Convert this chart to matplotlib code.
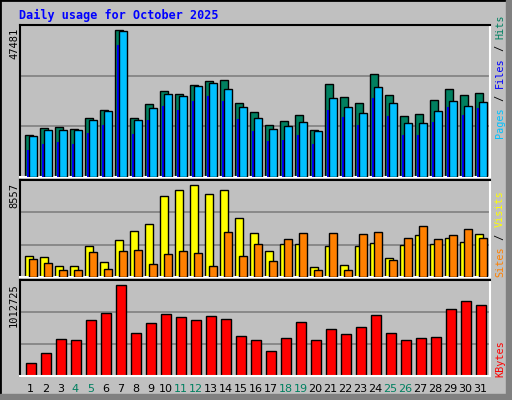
import matplotlib
matplotlib.use("Agg")
import matplotlib.pyplot as plt
from matplotlib.patches import Rectangle
import numpy as np

days = list(range(1, 32))
weekend = [4, 5, 11, 12, 18, 19, 25, 26]

hits = [13566, 15827, 16150, 15504, 19057, 21641, 47481, 19057, 23579, 27778, 26809,
        29716, 31008, 31331, 23902, 20995, 16796, 18088, 20026, 15181, 30039, 25840,
        23902, 33269, 26486, 19703, 20349, 24871, 28424, 26486, 27132]
files = [13243, 15181, 15181, 15181, 18411, 21318, 47158, 18411, 22287, 26809, 26163,
         29393, 30362, 28424, 22610, 19057, 15504, 16473, 17765, 14858, 25517, 22610,
         20672, 29070, 23902, 17442, 17442, 21318, 24548, 22933, 24225]
pages = [8721, 10659, 11305, 10659, 14212, 16796, 42636, 13889, 18411, 22933, 21641,
         24548, 26163, 24548, 18734, 14858, 11628, 11951, 13566, 10659, 21641, 19380,
         16796, 25517, 19703, 13566, 13566, 17765, 22610, 20026, 22287]
visits = [1978, 1885, 1051, 1051, 2905, 1421, 3461, 4295, 4944, 7540, 8096, 8557,
          7725, 8096, 5500, 4110, 2441, 3090, 3090, 958, 2905, 1143, 2905, 3183, 1792,
          2997, 3924, 3090, 3646, 3275, 4017]
sites = [1700, 1329, 680, 680, 2348, 773, 2441, 2534, 1236, 2163, 2441, 2256, 1051,
         4202, 1978, 3090, 1514, 3554, 4110, 680, 4110, 680, 4017, 4202, 1607, 3646,
         4759, 3554, 3924, 4481, 3646]
kbytes = [147840, 258720, 413952, 402864, 624624, 702240, 1012725, 480480, 591360,
          691152, 657888, 624624, 668976, 635712, 447216, 402864, 280896, 425040,
          602448, 402864, 524832, 469392, 547008, 680064, 480480, 402864, 425040,
          436128, 746592, 835296, 790944]

W, H = 512, 400
BG = "#c0c0c0"
fig = plt.figure(figsize=(W / 100, H / 100), dpi=100, facecolor=BG)
mono = "DejaVu Sans Mono"


def box(x0, y0, x1, y1):
    return [x0 / W, 1 - y1 / H, (x1 - x0) / W, (y1 - y0) / H]


def fpos(x, y):
    return x / W, 1 - y / H


# outer frame
fig.patches.append(Rectangle((0, 0), 1, 1, transform=fig.transFigure, fill=False,
                             edgecolor="black", lw=2))
fig.patches.append(Rectangle((506 / W, 0), 6 / W, 1, transform=fig.transFigure,
                             color="#808080"))
fig.patches.append(Rectangle((0, 0), 1, 6 / H, transform=fig.transFigure,
                             color="#808080"))

x = np.array(days, dtype=float)


def setup(ax, top):
    ax.set_facecolor(BG)
    ax.set_xlim(0.5, 31.83)
    ax.set_ylim(0, top)
    ax.set_yticks([top / 3, 2 * top / 3])
    ax.yaxis.grid(True, color="#808080", lw=1.2)
    ax.set_axisbelow(True)
    ax.tick_params(length=0, labelleft=False, labelbottom=False)
    ax.set_xticks([])
    for s in ["top", "left"]:
        ax.spines[s].set_color("black")
    for s in ["right", "bottom"]:
        ax.spines[s].set_color("white")
    for s in ax.spines.values():
        s.set_linewidth(1.5)


ax1 = fig.add_axes(box(20, 25, 490, 177))
setup(ax1, 49096)
ax1.bar(x - 0.167, hits, width=0.53, align="edge", color="#008060", edgecolor="black", lw=1, zorder=2)
ax1.bar(x - 0.03, pages, width=0.5, align="edge", color="#0000ff", lw=0, zorder=3)
ax1.bar(x + 0.1, files, width=0.5, align="edge", color="#00c0ff", edgecolor="black", lw=1, zorder=4)

ax2 = fig.add_axes(box(20, 180, 490, 277))
setup(ax2, 8983)
ax2.bar(x - 0.167, visits, width=0.56, align="edge", color="#ffff00", edgecolor="black", lw=1, zorder=2)
ax2.bar(x + 0.1, sites, width=0.5, align="edge", color="#ff8000", edgecolor="black", lw=1, zorder=3)

ax3 = fig.add_axes(box(20, 280, 490, 376))
setup(ax3, 1064860)
ax3.bar(x - 0.1, kbytes, width=0.667, align="edge", color="#ff0000", edgecolor="black", lw=1, zorder=2)

# day labels
for d in days:
    col = "#008060" if d in weekend else "black"
    fig.text(*fpos(20 + (d - 0.5 + 0.33) * 15 - 2, 389), str(d), color=col,
             fontsize=8, ha="center", va="center")

fig.text(*fpos(19, 15), "Daily usage for October 2025", color="#0000ff",
         fontsize=8.5, family=mono, fontweight="bold", ha="left", va="center")

for ytop, lab in [(28, "47481"), (183, "8557"), (283, "1012725")]:
    fig.text(*fpos(14, ytop), lab, rotation=90, fontsize=7.5, family=mono,
             ha="center", va="top")


def side_label(y_bottom, parts):
    y = y_bottom
    for txt, col in parts:
        fig.text(*fpos(500, y), txt, rotation=90, color=col, fontsize=7.3,
                 family=mono, ha="center", va="bottom")
        y -= 6.2 * len(txt)


side_label(138, [("Pages", "#00c0ff"), (" / ", "black"), ("Files", "#0000ff"),
                 (" / ", "black"), ("Hits", "#008060")])
side_label(277, [("Sites", "#ff8000"), (" / ", "black"), ("Visits", "#ffff00")])
side_label(377, [("KBytes", "#ff0000")])

fig.savefig("out.png", dpi=100, facecolor=BG)
